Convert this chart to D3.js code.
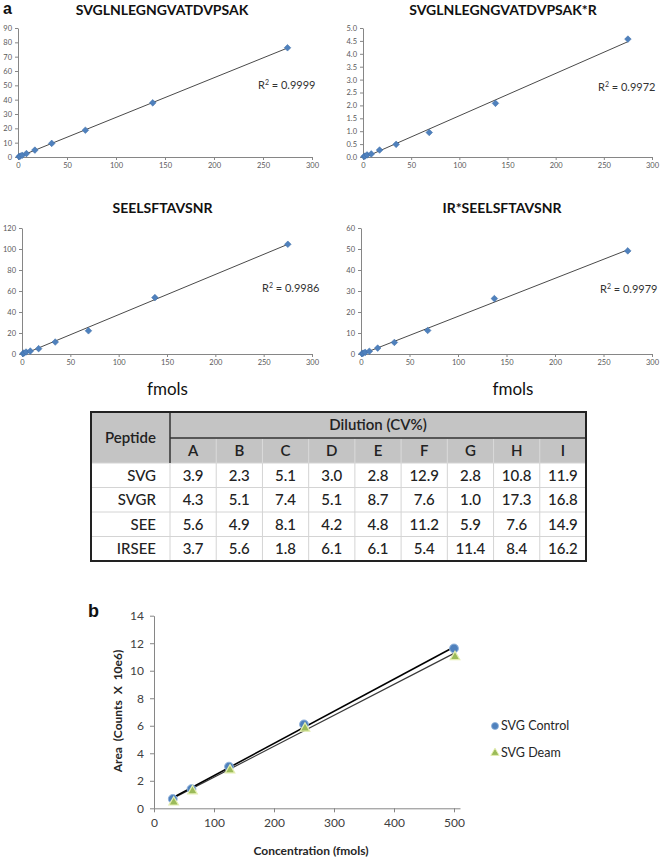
<!DOCTYPE html>
<html><head><meta charset="utf-8">
<script src="https://cdn.jsdelivr.net/npm/d3@7"></script>
<style>body{margin:0;background:#fff} svg{display:block} text{font-family:Lato,"Open Sans",sans-serif}</style>
</head><body><svg id="c" width="661" height="860"></svg>
<script>
// ---- data: panel a calibration curves ----
const fmolConc = [1.07, 2.15, 4.3, 8.6, 17.2, 34.4, 68.75, 137.5, 275];
const svgArea = [0.3, 0.6, 1.2, 2.4, 4.8, 9.5, 18.7, 37.8, 76.2];
const svgrArea = [0.02, 0.04, 0.08, 0.12, 0.27, 0.49, 0.95, 2.08, 4.57];
const seeArea = [0.4, 1.0, 1.9, 2.8, 5.1, 11.4, 22.1, 53.7, 104.5];
const irseeArea = [0.15, 0.4, 0.8, 1.3, 2.8, 5.5, 11.2, 26.4, 49.1];
const peptideTitles = ["SVGLNLEGNGVATDVPSAK", "SVGLNLEGNGVATDVPSAK*R", "SEELSFTAVSNR", "IR*SEELSFTAVSNR"];
const r2Labels = ["0.9999", "0.9972", "0.9986", "0.9979"];
const fmolTicks = [0, 50, 100, 150, 200, 250, 300];
const svgTicks = [0, 10, 20, 30, 40, 50, 60, 70, 80, 90];
const svgrTicks = [0, 0.5, 1, 1.5, 2, 2.5, 3, 3.5, 4, 4.5, 5];
const seeTicks = [0, 20, 40, 60, 80, 100, 120];
const irseeTicks = [0, 10, 20, 30, 40, 50, 60];
const xAxisLabel = "fmols";

// ---- data: CV table ----
const tablePeptides = ["SVG", "SVGR", "SEE", "IRSEE"];
const dilutions = ["A", "B", "C", "D", "E", "F", "G", "H", "I"];
const cvSVG = [3.9, 2.3, 5.1, 3.0, 2.8, 12.9, 2.8, 10.8, 11.9];
const cvSVGR = [4.3, 5.1, 7.4, 5.1, 8.7, 7.6, 1.0, 17.3, 16.8];
const cvSEE = [5.6, 4.9, 8.1, 4.2, 4.8, 11.2, 5.9, 7.6, 14.9];
const cvIRSEE = [3.7, 5.6, 1.8, 6.1, 6.1, 5.4, 11.4, 8.4, 16.2];

// ---- data: panel b ----
const concB = [31.25, 62.5, 125, 250, 500];
const controlArea = [0.68, 1.40, 3.03, 6.10, 11.62];
const deamArea = [0.55, 1.36, 2.88, 5.92, 11.12];
const concTicks = [0, 100, 200, 300, 400, 500];
const areaTicks = [0, 2, 4, 6, 8, 10, 12, 14];
const seriesNames = ["SVG Control", "SVG Deam"];

const svg = d3.select("#c");
const AX = "#868686", TXT = "#404040";

function fit(xs, ys) {
  const mx = d3.mean(xs), my = d3.mean(ys);
  let sxy = 0, sxx = 0;
  xs.forEach((x, i) => { sxy += (x - mx) * (ys[i] - my); sxx += (x - mx) * (x - mx); });
  const m = sxy / sxx; return { m, b: my - m * mx };
}
function styleAxis(g, fs, col) {
  g.select(".domain").attr("stroke", AX);
  g.selectAll(".tick line").attr("stroke", AX);
  g.selectAll(".tick text").attr("fill", col).style("font-size", fs + "px").style("font-family", "Lato, sans-serif");
}

// ---- panel a ----
const panels = [
  { vals: svgArea, ticks: svgTicks, fmt: d3.format("d"), x0: 18, x1: 312, yb: 157, yt: 28, tx: 162, ty: 14.5, rx: 258, ry: 89 },
  { vals: svgrArea, ticks: svgrTicks, fmt: d3.format(".1f"), x0: 363, x1: 652, yb: 157, yt: 28, tx: 503, ty: 14.5, rx: 598, ry: 91 },
  { vals: seeArea, ticks: seeTicks, fmt: d3.format("d"), x0: 22, x1: 312, yb: 354, yt: 228, tx: 162.5, ty: 212.5, rx: 262, ry: 292 },
  { vals: irseeArea, ticks: irseeTicks, fmt: d3.format("d"), x0: 361, x1: 652, yb: 354, yt: 228, tx: 502, ty: 212.5, rx: 600, ry: 293 }
];
panels.forEach((p, i) => {
  const x = d3.scaleLinear().domain([0, 300]).range([p.x0, p.x1]);
  const y = d3.scaleLinear().domain([0, d3.max(p.ticks)]).range([p.yb, p.yt]);
  const g = svg.append("g");
  const gx = g.append("g").attr("transform", `translate(0,${p.yb})`)
    .call(d3.axisBottom(x).tickValues(fmolTicks).tickSize(3).tickSizeOuter(0).tickPadding(3));
  styleAxis(gx, 7.5, "#595959");
  const gy = g.append("g").attr("transform", `translate(${p.x0},0)`)
    .call(d3.axisLeft(y).tickValues(p.ticks).tickFormat(p.fmt).tickSize(3).tickSizeOuter(0).tickPadding(3));
  styleAxis(gy, 7.5, "#595959");
  const f = fit(fmolConc, p.vals);
  const xa = d3.min(fmolConc), xb = d3.max(fmolConc);
  g.append("line").attr("x1", x(xa)).attr("y1", y(f.m * xa + f.b)).attr("x2", x(xb)).attr("y2", y(f.m * xb + f.b))
    .attr("stroke", "#4a4a4a").attr("stroke-width", 1);
  g.selectAll("path.pt").data(fmolConc).enter().append("path").attr("class", "pt")
    .attr("d", d3.symbol(d3.symbolSquare, 22))
    .attr("transform", (d, j) => `translate(${x(d)},${y(p.vals[j])}) rotate(45)`)
    .attr("fill", "#4F81BD").attr("stroke", "#3d6da8").attr("stroke-width", 0.5);
  g.append("text").attr("x", p.tx).attr("y", p.ty).attr("text-anchor", "middle")
    .style("font-size", "14px").style("font-weight", "bold").attr("fill", "#111").text(peptideTitles[i]);
  const r = g.append("text").attr("x", p.rx).attr("y", p.ry).style("font-size", "11px").attr("fill", "#333");
  r.append("tspan").text("R");
  r.append("tspan").attr("dy", -4).style("font-size", "7px").text("2");
  r.append("tspan").attr("dy", 4).text(" = " + r2Labels[i]);
});
svg.append("text").attr("x", 3).attr("y", 13.5).style("font-size", "16px").style("font-weight", "bold").style("font-family", "Arial, sans-serif").attr("fill", "#111").text("a");
[167.5, 513].forEach(cx => svg.append("text").attr("x", cx).attr("y", 395).attr("text-anchor", "middle")
  .style("font-size", "17px").attr("fill", "#111").text(xAxisLabel));

// ---- table ----
const cvRows = [cvSVG, cvSVGR, cvSEE, cvIRSEE];
const tL = 91, tR = 586, pepR = 170, tTop = 412, h1 = 438, h2 = 463, tBot = 561;
const colX = d3.scaleBand().domain(dilutions).range([pepR, tR]);
const rowY = d3.scaleBand().domain(tablePeptides).range([h2, tBot]);
const tg = svg.append("g");
tg.append("rect").attr("x", tL).attr("y", tTop).attr("width", tR - tL).attr("height", h2 - tTop).attr("fill", "#c4c4c4");
tablePeptides.forEach(pp => {
  tg.append("line").attr("x1", tL).attr("x2", tR).attr("y1", rowY(pp)).attr("y2", rowY(pp)).attr("stroke", "#d4d4d4");
});
dilutions.forEach(d => {
  tg.append("line").attr("x1", colX(d)).attr("x2", colX(d)).attr("y1", h2).attr("y2", tBot).attr("stroke", "#d4d4d4");
  if (d !== "A") tg.append("line").attr("x1", colX(d)).attr("x2", colX(d)).attr("y1", h1 + 1).attr("y2", h2).attr("stroke", "#dadada");
});
tg.append("line").attr("x1", pepR).attr("x2", tR).attr("y1", h1).attr("y2", h1).attr("stroke", "#333").attr("stroke-width", 1.5);
tg.append("line").attr("x1", pepR).attr("x2", pepR).attr("y1", tTop).attr("y2", h2).attr("stroke", "#333").attr("stroke-width", 1.5);
tg.append("rect").attr("x", tL).attr("y", tTop).attr("width", tR - tL).attr("height", tBot - tTop)
  .attr("fill", "none").attr("stroke", "#222").attr("stroke-width", 2);
const tfs = "15px";
tg.append("text").attr("x", 130.5).attr("y", (tTop + h2) / 2).attr("dy", "0.35em").attr("text-anchor", "middle")
  .style("font-size", tfs).style("font-weight", "600").attr("fill", "#222").text("Peptide");
tg.append("text").attr("x", (pepR + tR) / 2).attr("y", (tTop + h1) / 2).attr("dy", "0.35em").attr("text-anchor", "middle")
  .style("font-size", tfs).style("font-weight", "600").attr("fill", "#222").text("Dilution (CV%)");
dilutions.forEach(d => tg.append("text").attr("x", colX(d) + colX.bandwidth() / 2).attr("y", (h1 + h2) / 2).attr("dy", "0.35em")
  .attr("text-anchor", "middle").style("font-size", tfs).style("font-weight", "600").attr("fill", "#222").text(d));
tablePeptides.forEach((pp, r) => {
  const cy = rowY(pp) + rowY.bandwidth() / 2;
  tg.append("text").attr("x", 156).attr("y", cy).attr("dy", "0.35em").attr("text-anchor", "end")
    .style("font-size", tfs).style("font-weight", "500").attr("fill", "#222").text(pp);
  cvRows[r].forEach((v, c) => tg.append("text").attr("x", colX(dilutions[c]) + colX.bandwidth() / 2).attr("y", cy).attr("dy", "0.35em")
    .attr("text-anchor", "middle").style("font-size", tfs).style("font-weight", "500").attr("fill", "#222").text(d3.format(".1f")(v)));
});

// ---- panel b ----
const bx = d3.scaleLinear().domain([0, 510]).range([154, 460]);
const by = d3.scaleLinear().domain([0, 14]).range([808.3, 615.7]);
const bg = svg.append("g");
const bgx = bg.append("g").attr("transform", "translate(0,808.3)")
  .call(d3.axisBottom(bx).tickValues(concTicks).tickSize(4).tickSizeOuter(0).tickPadding(6));
styleAxis(bgx, 12, TXT);
const bgy = bg.append("g").attr("transform", "translate(154,0)")
  .call(d3.axisLeft(by).tickValues(areaTicks).tickSize(4).tickSizeOuter(0).tickPadding(6));
styleAxis(bgy, 12, TXT);
const fc = fit(concB, controlArea), fd = fit(concB, deamArea);
const xa = d3.min(concB), xb = d3.max(concB);
bg.append("line").attr("x1", bx(xa)).attr("y1", by(fd.m * xa + fd.b)).attr("x2", bx(xb)).attr("y2", by(fd.m * xb + fd.b))
  .attr("stroke", "#3a3a3a").attr("stroke-width", 1.2);
bg.append("line").attr("x1", bx(xa)).attr("y1", by(fc.m * xa + fc.b)).attr("x2", bx(xb)).attr("y2", by(fc.m * xb + fc.b))
  .attr("stroke", "#000").attr("stroke-width", 1.6);
bg.selectAll("circle.ctl").data(concB).enter().append("circle").attr("class", "ctl")
  .attr("cx", d => bx(d)).attr("cy", (d, i) => by(controlArea[i])).attr("r", 4.4)
  .attr("fill", "#4F81BD").attr("stroke", "#8fb2dc").attr("stroke-width", 1);
bg.selectAll("path.dm").data(concB).enter().append("path").attr("class", "dm")
  .attr("d", d3.symbol(d3.symbolTriangle, 40))
  .attr("transform", (d, i) => `translate(${bx(d) + 1},${by(deamArea[i]) + 1.5})`)
  .attr("fill", "#9BBB59").attr("stroke", "#e4eeb0").attr("stroke-width", 1.2);
// legend
bg.append("circle").attr("cx", 495).attr("cy", 726).attr("r", 3.5).attr("fill", "#4F81BD").attr("stroke", "#8fb2dc").attr("stroke-width", 0.8);
bg.append("path").attr("d", d3.symbol(d3.symbolTriangle, 30)).attr("transform", "translate(495,753)")
  .attr("fill", "#9BBB59").attr("stroke", "#e4eeb0").attr("stroke-width", 1);
seriesNames.forEach((s, i) => bg.append("text").attr("x", 501).attr("y", 726 + i * 27).attr("dy", "0.35em")
  .style("font-size", "12.5px").attr("fill", "#262626").text(s));
bg.append("text").attr("x", 311).attr("y", 855).attr("text-anchor", "middle").style("font-size", "12px").style("font-weight", "bold")
  .attr("fill", "#262626").text("Concentration (fmols)");
bg.append("text").attr("transform", "translate(122,711) rotate(-90)").attr("text-anchor", "middle").style("font-size", "12px")
  .style("font-weight", "bold").style("word-spacing", "3px").attr("fill", "#262626").text("Area (Counts X 10e6)");
svg.append("text").attr("x", 88).attr("y", 617).style("font-size", "18px").style("font-weight", "bold").style("font-family", "Arial, sans-serif").attr("fill", "#111").text("b");
</script></body></html>
